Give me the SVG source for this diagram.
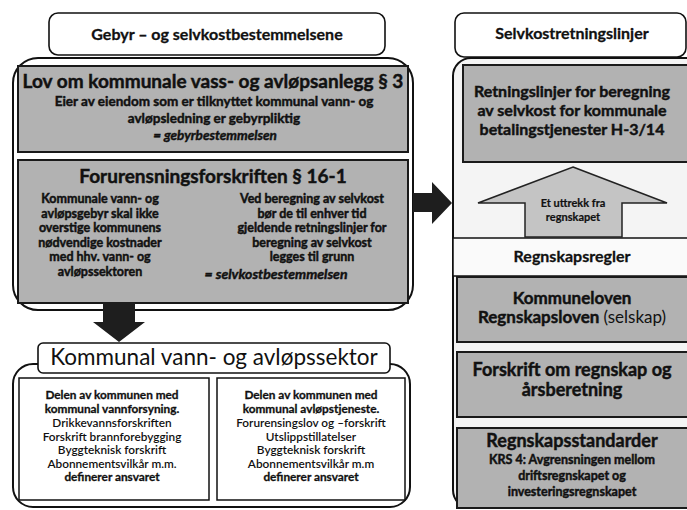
<svg xmlns="http://www.w3.org/2000/svg" width="687" height="510" viewBox="0 0 687 510">
<style>
.t{font-family:Lato,"Liberation Sans",sans-serif;fill:#111;text-anchor:middle}
.b{font-weight:700}
.h{stroke:#111;stroke-width:0.45}
.i{font-style:italic}
.title{fill:#fff;stroke:#111;stroke-width:1.6}
.gray{fill:#b2b2b2;stroke:#1a1a1a;stroke-width:2}
.cont{fill:#fff;stroke:#111;stroke-width:2}
.inner{fill:#fff;stroke:#111;stroke-width:1.5}
.arrow{fill:#1e1e1e}
</style>
<rect width="687" height="510" fill="#fff"/>

<g id="gebyr-panel">
  <rect class="cont" x="13" y="58" width="400" height="252" rx="25"/>
  <rect class="title" x="49" y="13" width="336" height="42" rx="9"/>
  <text class="t b h" x="217" y="40" font-size="16" style="stroke-width:0.3">Gebyr – og selvkostbestemmelsene</text>
</g>

<g id="lov-vass">
  <rect class="gray" x="18" y="66" width="390" height="86"/>
  <text class="t b h" x="213" y="88" font-size="19">Lov om kommunale vass- og avløpsanlegg § 3</text>
  <text class="t b h" x="214" y="106" font-size="13.5">Eier av eiendom som er tilknyttet kommunal vann- og</text>
  <text class="t b h" x="214" y="123" font-size="13.5">avløpsledning er gebyrpliktig</text>
  <text class="t b i h" x="215" y="140" font-size="13.5">= gebyrbestemmelsen</text>
</g>

<g id="forurensning">
  <rect class="gray" x="18" y="160" width="390" height="143"/>
  <text class="t b h" x="213" y="183" font-size="19">Forurensningsforskriften § 16-1</text>
  <g class="t b h" font-size="12.5">
    <text x="100" y="203">Kommunale vann- og</text>
    <text x="100" y="217.5">avløpsgebyr skal ikke</text>
    <text x="100" y="232">overstige kommunens</text>
    <text x="100" y="246.5">nødvendige kostnader</text>
    <text x="100" y="261">med hhv. vann- og</text>
    <text x="100" y="275.5">avløpssektoren</text>
    <text x="312" y="203">Ved beregning av selvkost</text>
    <text x="312" y="217.5">bør de til enhver tid</text>
    <text x="312" y="232">gjeldende retningslinjer for</text>
    <text x="312" y="246.5">beregning av selvkost</text>
    <text x="312" y="260.5">legges til grunn</text>
  </g>
  <text class="t b i h" x="276" y="279" font-size="14">= selvkostbestemmelsen</text>
</g>

<g id="sektor">
  <rect class="cont" x="13" y="364" width="397" height="143" rx="20"/>
  <rect class="title" x="38" y="343" width="352" height="30" rx="5"/>
  <text class="t" x="214" y="365" font-size="22.5">Kommunal vann- og avløpssektor</text>
</g>

<g id="vannforsyning">
  <rect class="inner" x="19" y="378" width="190" height="122"/>
  <g class="t" font-size="11.8">
    <text class="b h" x="112" y="399" style="stroke-width:0.3">Delen av kommunen med</text>
    <text class="b h" x="112" y="413" style="stroke-width:0.3">kommunal vannforsyning.</text>
    <text x="112" y="427" font-weight="600">Drikkevannsforskriften</text>
    <text x="112" y="440.5" font-weight="600">Forskrift brannforebygging</text>
    <text x="112" y="454" font-weight="600">Byggteknisk forskrift</text>
    <text x="112" y="467.5" font-weight="600">Abonnementsvilkår m.m.</text>
    <text class="b h" x="112" y="481" style="stroke-width:0.3">definerer ansvaret</text>
  </g>
</g>

<g id="avlop">
  <rect class="inner" x="217" y="378" width="188" height="122"/>
  <g class="t" font-size="11.8">
    <text class="b h" x="311" y="399" style="stroke-width:0.3">Delen av kommunen med</text>
    <text class="b h" x="311" y="413" style="stroke-width:0.3">kommunal avløpstjeneste.</text>
    <text x="311" y="427" font-weight="600">Forurensingslov og –forskrift</text>
    <text x="311" y="440.5" font-weight="600">Utslippstillatelser</text>
    <text x="311" y="454" font-weight="600">Byggteknisk forskrift</text>
    <text x="311" y="467.5" font-weight="600">Abonnementsvilkår m.m</text>
    <text class="b h" x="311" y="481" style="stroke-width:0.3">definerer ansvaret</text>
  </g>
</g>

<g id="selvkost-panel">
  <rect class="cont" x="453" y="58" width="260" height="450" rx="18" style="fill:#f4f4f4"/>
  <rect class="title" x="455" y="13" width="231" height="44" rx="9"/>
  <text class="t b h" x="572" y="39" font-size="16" style="stroke-width:0.3">Selvkostretningslinjer</text>
</g>

<g id="retningslinjer">
  <rect class="gray" x="463" y="65" width="230" height="97"/>
  <g class="t b h" font-size="16">
    <text x="572" y="97">Retningslinjer for beregning</text>
    <text x="572" y="116">av selvkost for kommunale</text>
    <text x="572" y="135">betalingstjenester H-3/14</text>
  </g>
</g>

<g id="regnskapsregler">
  <rect x="453" y="238" width="240" height="38" fill="#fafafa" stroke="#111" stroke-width="1.5"/>
  <text class="t b h" x="572" y="262" font-size="16" style="stroke-width:0.3">Regnskapsregler</text>
</g>

<g id="kommuneloven">
  <rect class="gray" x="457" y="277" width="235" height="65"/>
  <text class="t b h" x="572" y="304" font-size="17">Kommuneloven</text>
  <text class="t b h" x="572" y="323" font-size="17">Regnskapsloven <tspan font-weight="400" style="stroke-width:0">(selskap)</tspan></text>
</g>

<g id="forskrift-regnskap">
  <rect class="gray" x="457" y="352" width="235" height="65"/>
  <text class="t b h" x="572" y="376" font-size="18">Forskrift om regnskap og</text>
  <text class="t b h" x="572" y="396" font-size="18">årsberetning</text>
</g>

<g id="standarder">
  <rect class="gray" x="457" y="428" width="235" height="80"/>
  <text class="t b h" x="572" y="447" font-size="18">Regnskapsstandarder</text>
  <g class="t b h" font-size="12.5">
    <text x="572" y="464">KRS 4: Avgrensningen mellom</text>
    <text x="572" y="480">driftsregnskapet  og</text>
    <text x="572" y="496">investeringsregnskapet</text>
  </g>
</g>

<g id="connectors">
  <polygon class="arrow" points="413,193 432,193 432,182 452,203 432,224 432,212 413,212"/>
  <polygon class="arrow" points="103,302 135,302 135,322 145,322 119,342 93,322 103,322"/>
  <g id="uttrekk-arrow">
    <polygon points="573,167 667,203 622,203 622,237 525,237 525,203 478,203" fill="#c4c4c4" stroke="#222" stroke-width="1.5"/>
    <text class="t b h" x="573" y="207" font-size="11" style="stroke-width:0.2">Et uttrekk fra</text>
    <text class="t b h" x="573" y="221" font-size="11" style="stroke-width:0.2">regnskapet</text>
  </g>
</g>
</svg>
